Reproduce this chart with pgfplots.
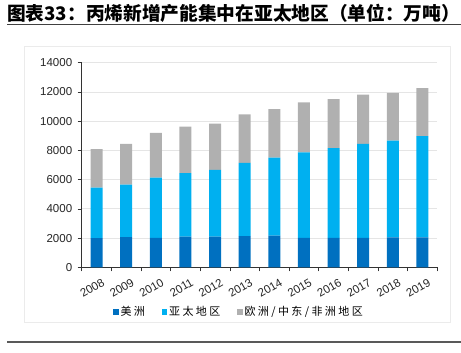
\documentclass[border=0pt]{standalone}
\usepackage{pgfplots}
\pgfplotsset{compat=1.18}
\usepackage{fontspec}
\setmainfont{Liberation Sans}
\newfontfamily\cjk{Noto Sans CJK SC}
\definecolor{cAm}{HTML}{0070C0}
\definecolor{cAs}{HTML}{00B0F0}
\definecolor{cEu}{HTML}{B0B0B0}
\newcommand{\s}{\hspace{2.4pt}}
\begin{document}
\begin{tikzpicture}
\path[use as bounding box] (0pt,0pt) rectangle (461pt,353pt);
% title
\node[anchor=west, inner sep=0pt] at (7pt,340pt) {\cjk\bfseries\fontsize{18.7}{20}\selectfont 图表33：丙烯新增产能集中在亚太地区（单位：万吨）};
\draw[line width=1.2pt, black!75] (7pt,328.3pt) -- (461pt,328.3pt);
\draw[line width=1.2pt, black!65] (7pt,11pt) -- (461pt,11pt);
\draw[line width=0.8pt, black!8] (24pt,31pt) rectangle (450.7pt,306.3pt);
\begin{axis}[
  at={(81.7pt,85.7pt)}, anchor=south west,
  scale only axis, width=355.6pt, height=204.6pt,
  ybar stacked, bar width=12pt,
  xmin=-0.5, xmax=11.5, ymin=0, ymax=14000,
  xtick={0,...,11},
  xticklabels={2008,2009,2010,2011,2012,2013,2014,2015,2016,2017,2018,2019},
  minor xtick={-0.5,0.5,...,11.5},
  ytick={0,2000,...,14000},
  scaled y ticks=false,
  axis x line=bottom, axis y line=left,
  axis line style={black!80, line width=0.8pt, -},
  tick align=outside,
  major x tick style={draw=none},
  minor x tick style={draw=black!80, line width=0.6pt},
  minor tick length=4pt,
  y tick style={draw=black!80, line width=0.6pt},
  major tick length=4pt,
  ymajorgrids, grid style={black!10, line width=0.8pt},
  /pgf/number format/assume math mode=true,
  /pgf/number format/1000 sep={},
  ticklabel style={font=\fontsize{11.5}{13}\selectfont, text=black!85},
  xticklabel style={rotate=30, anchor=north east, inner sep=1pt, xshift=2pt, yshift=-7pt},
  yticklabel style={xshift=-2pt},
  legend style={at={(0.4425,-0.218)}, anchor=center, draw=none, fill=none,
    font=\cjk\fontsize{11}{13}\selectfont, legend columns=3,
    /tikz/every even column/.append style={column sep=15pt},
    /tikz/every odd column/.append style={inner xsep=1pt}},
  legend image code/.code={\fill[#1] (0pt,-2.6pt) rectangle (5.2pt,2.6pt);},
]
\addplot[fill=cAm, draw=none] coordinates {(0,2000) (1,2070) (2,2010) (3,2100) (4,2100) (5,2140) (6,2170) (7,2010) (8,2010) (9,2010) (10,2050) (11,2050)};
\addplot[fill=cAs, draw=none] coordinates {(0,3450) (1,3580) (2,4120) (3,4350) (4,4560) (5,5000) (6,5330) (7,5860) (8,6150) (9,6430) (10,6610) (11,6930)};
\addplot[fill=cEu, draw=none] coordinates {(0,2640) (1,2800) (2,3060) (3,3170) (4,3170) (5,3330) (6,3330) (7,3420) (8,3350) (9,3370) (10,3280) (11,3280)};
\legend{美\s 洲, 亚\s 太\s 地\s 区, 欧\s 洲\s/\s 中\s 东\s/\s 非\s 洲\s 地\s 区}
\end{axis}
\end{tikzpicture}
\end{document}
